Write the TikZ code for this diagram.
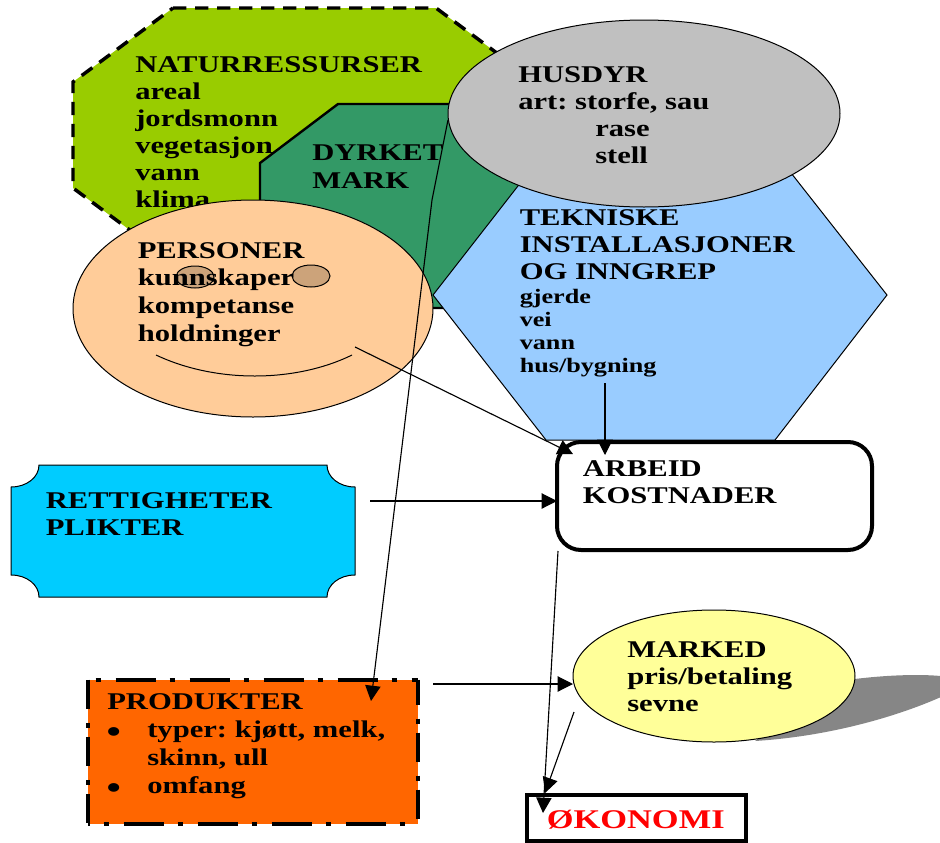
\documentclass[tikz,border=0pt]{standalone}
\usepackage{fontspec}
\setmainfont{Liberation Serif}[FakeStretch=1.275]
\usetikzlibrary{arrows.meta,shapes.geometric}
\definecolor{naturgreen}{HTML}{99CC00}
\definecolor{markgreen}{HTML}{339966}
\definecolor{tekblue}{HTML}{99CCFF}
\definecolor{husgrey}{HTML}{C0C0C0}
\definecolor{persorange}{HTML}{FFCC99}
\definecolor{eyetan}{HTML}{CCA37A}
\definecolor{plaqueblue}{HTML}{00CCFF}
\definecolor{prodorange}{HTML}{FF6600}
\definecolor{markyellow}{HTML}{FFFF99}
\definecolor{shadowgrey}{HTML}{868686}
\frenchspacing
\newcommand{\bigbul}{\makebox[30pt][l]{\smash{\raisebox{-4pt}{\hspace*{-.5pt}\fontsize{24}{24}\selectfont\textbullet}}}}
\tikzset{
  big/.style={font=\fontsize{18}{20.3}\selectfont\bfseries,align=left,anchor=north west,inner sep=0pt},
  oval/.style={ellipse,draw=black,line width=.75pt,inner sep=0pt},
  conn/.style={line width=.85pt,-{Triangle[length=11.5pt,width=11.5pt]}},
  hdash/.style={line width=3pt,dash pattern=on 30pt off 10.5pt on 3.75pt off 11.25pt},
  vdash/.style={line width=3pt,dash pattern=on 21.75pt off 10.5pt on 3.75pt off 6.75pt}
}
\begin{document}
\begin{tikzpicture}[x=.75pt,y=-.75pt]
\useasboundingbox (0,0) rectangle (940,843);
% Naturressurser
\draw[fill=naturgreen,line width=2.6pt,dash pattern=on 10pt off 6.5pt]
  (173,8) -- (436,8) -- (536,82) -- (536,188) -- (436,262) -- (173,262) -- (73,188) -- (73,82) -- cycle;
\node[big] (nat) at (135,56) {NATURRESSURSER\\areal\\jordsmonn\\vegetasjon\\vann\\klima};
% Dyrket mark
\draw[fill=markgreen,line width=1.8pt]
  (338,104) -- (500,104) -- (560,163) -- (560,260) -- (500,308) -- (338,308) -- (260,250) -- (260,163) -- cycle;
\node[big] (dyr) at (312,145) {DYRKET\\MARK};
% Tekniske
\draw[fill=tekblue,line width=.75pt]
  (433,295) -- (546,150) -- (773,150) -- (887,295) -- (775,440) -- (546,440) -- cycle;
% Husdyr
\node[oval,fill=husgrey,minimum width=294pt,minimum height=140.25pt] (hus) at (644,113.5) {};
\node[big] (hust) at (518,66) {HUSDYR\\art: storfe, sau\\\hspace*{57.75pt}rase\\\hspace*{57.75pt}stell};
\node[big] (tek) at (519.5,209) {TEKNISKE\\INSTALLASJONER\\OG INNGREP};
\node[big,font=\fontsize{15.4}{17.25}\selectfont\bfseries] (tek2) at (519.5,289) {gjerde\\vei\\vann\\hus/bygning};
% Personer
\node[oval,fill=persorange,minimum width=270pt,minimum height=162.75pt] (pers) at (253,308.5) {};
\node[oval,fill=eyetan,minimum width=28.5pt,minimum height=16.5pt] (eye1) at (195,277) {};
\node[oval,fill=eyetan,minimum width=28.5pt,minimum height=16.5pt] (eye2) at (311,276) {};
\draw[line width=.75pt] (156,355) .. controls (215,383) and (295,383) .. (352,355);
\node[big,font=\fontsize{18}{20.75}\selectfont\bfseries] (perst) at (137.5,242) {PERSONER\\kunnskaper\\kompetanse\\holdninger};
% Rettigheter
\draw[fill=plaqueblue,line width=.75pt]
  (11,487) .. controls (27,487) and (39,477) .. (39,465) -- (327,465)
  .. controls (327,477) and (339,487) .. (355,487) -- (355,575)
  .. controls (339,575) and (327,585) .. (327,597) -- (39,597)
  .. controls (39,585) and (27,575) .. (11,575) -- cycle;
\node[big] (ret) at (45.5,492) {RETTIGHETER\\PLIKTER};
% Arbeid
\node[draw=black,fill=white,line width=3pt,rounded corners=18pt,minimum width=236.25pt,minimum height=81pt,inner sep=0pt] (arb) at (714.5,496) {};
\node[big] (arbt) at (582.5,460) {ARBEID\\KOSTNADER};
% Marked
\fill[shadowgrey] (755,741) .. controls (850,735) and (930,705) .. (965,685) .. controls (965,673) and (900,672) .. (840,681) -- cycle;
\node[oval,fill=markyellow,minimum width=211.5pt,minimum height=99pt] (mar) at (714,676) {};
\node[big] (mart) at (627,641.5) {MARKED\\pris/betaling\\sevne};
% Produkter
\node[fill=prodorange,minimum width=247.5pt,minimum height=108pt,inner sep=0pt] (prod) at (253,752) {};
\draw[hdash,dash phase=34.5pt] (prod.north west) -- (prod.north east);
\draw[hdash,dash phase=28.5pt] (prod.south west) -- (prod.south east);
\draw[vdash] (prod.north west) -- (prod.south west);
\draw[vdash,dash phase=3pt] (prod.north east) -- (prod.south east);
\node[big,font=\fontsize{18}{21}\selectfont\bfseries] (prodt) at (107,693) {PRODUKTER\\\bigbul typer: kjøtt, melk,\\\hspace*{30pt}skinn, ull\\\bigbul omfang};
% Okonomi
\node[draw=black,fill=white,line width=3pt,minimum width=164.25pt,minimum height=34.5pt,inner sep=0pt] (oko) at (636.5,818) {};
\node[big,font=\fontsize{20.25}{22}\selectfont\bfseries,text=red] (okot) at (546.5,810) {ØKONOMI};
% Connector ends
\coordinate (c1a) at (448,120);
\coordinate (c1b) at (432,200);
\coordinate (c1c) at (371,701);
\coordinate (c2a) at (355,347);
\coordinate (c2b) at (573,454);
\coordinate (c3a) at (605,383);
\coordinate (c3b) at (605,455);
\coordinate (c4a) at (370,501);
\coordinate (c4b) at (557,501);
\coordinate (c5a) at (558,551);
\coordinate (c5b) at (543,813);
\coordinate (c6a) at (574,712);
\coordinate (c6b) at (545,793);
\coordinate (c7a) at (433,684);
\coordinate (c7b) at (573,684);
\draw[conn] (c1a) -- (c1b) -- (c1c);
\draw[conn] (c2a) -- (c2b);
\draw[conn] (c3a) -- (c3b);
\draw[conn] (c4a) -- (c4b);
\draw[conn] (c5a) -- (c5b);
\draw[conn] (c6a) -- (c6b);
\draw[conn] (c7a) -- (c7b);
\end{tikzpicture}
\end{document}
